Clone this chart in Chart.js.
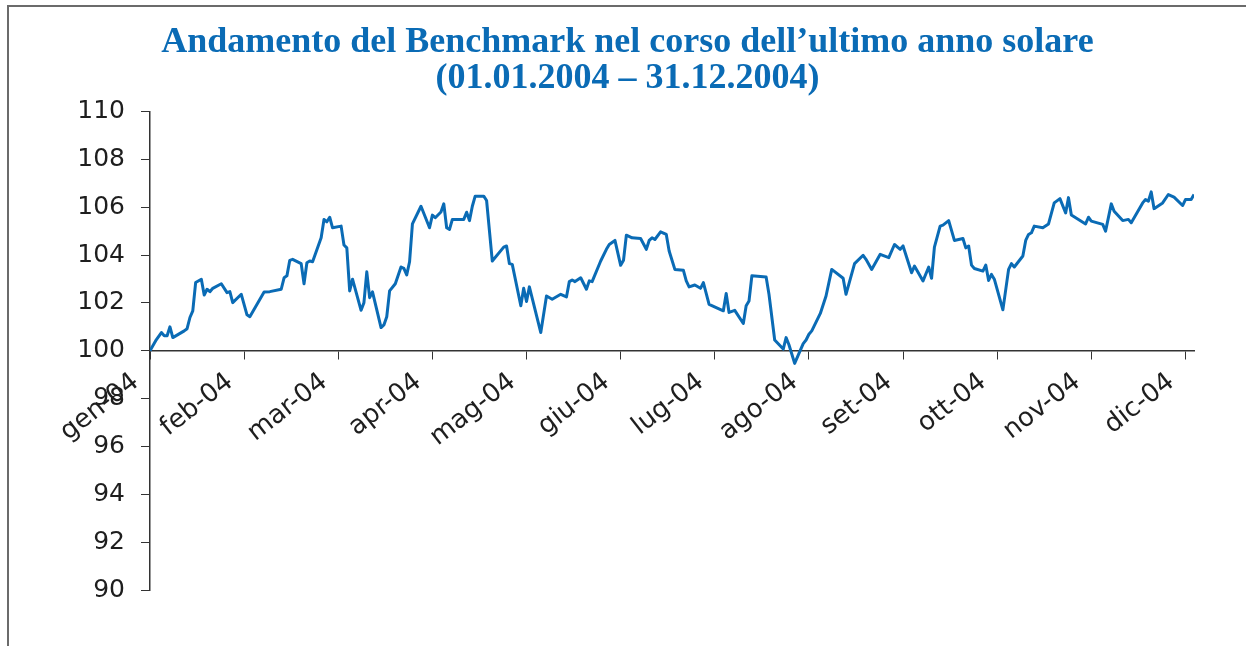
<!DOCTYPE html>
<html>
<head>
<meta charset="utf-8">
<script src="https://cdn.jsdelivr.net/npm/chart.js@4/dist/chart.umd.min.js"></script>
<style>
  html, body { margin: 0; padding: 0; background: #fff; }
  #wrap { position: relative; width: 1246px; height: 646px; overflow: hidden; }
  #frame { position: absolute; left: 7px; top: 5px; right: -4px; bottom: -4px;
           border-top: 2px solid #6b6b6b; border-left: 2px solid #6b6b6b; }
  #c { position: absolute; left: 0; top: 0; }
</style>
</head>
<body>
<div id="wrap">
  <div id="frame"></div>
  <canvas id="c" width="1246" height="646"></canvas>
</div>
<script>
// Benchmark 2004 — single line.

const titleLines = [
  'Andamento del Benchmark nel corso dell\u2019ultimo anno solare',
  '(01.01.2004 \u2013 31.12.2004)',
];
const monthLabels = ['gen-04','feb-04','mar-04','apr-04','mag-04','giu-04',
                     'lug-04','ago-04','set-04','ott-04','nov-04','dic-04'];
const yTicks = [90, 92, 94, 96, 98, 100, 102, 104, 106, 108, 110];

// day of the year (0 = 01.01) for each turning point of the line
const days = [
  0, 2, 4, 5, 6, 7, 8, 12, 13, 14, 15, 16, 18, 19, 20, 21, 22, 25, 27, 28, 29, 32, 34, 35,
  40, 42, 46, 47, 48, 49, 50, 53, 54, 55, 56, 57, 60, 61, 62, 63, 64, 67, 68, 69, 70, 71,
  74, 75, 76, 77, 78, 81, 82, 83, 84, 86, 88, 89, 90, 91, 92, 95, 98, 99, 100, 102, 103,
  104, 105, 106, 110, 111, 112, 113, 114, 117, 118, 120, 124, 125, 126, 127, 130, 131,
  132, 133, 137, 139, 141, 144, 146, 147, 148, 149, 151, 153, 154, 155, 158, 160, 161,
  163, 165, 166, 167, 169, 172, 174, 175, 176, 177, 179, 181, 182, 184, 187, 188, 189,
  191, 193, 194, 196, 201, 202, 203, 205, 208, 209, 210, 211, 216, 217, 219, 222, 223,
  224, 226, 229, 230, 231, 232, 235, 237, 239, 243, 244, 247, 250, 251, 253, 256, 259,
  261, 263, 264, 267, 268, 271, 273, 274, 275, 277, 278, 280, 282, 285, 286, 287, 288,
  289, 292, 293, 294, 295, 296, 299, 301, 302, 303, 306, 307, 308, 309, 310, 313, 315,
  317, 319, 321, 322, 323, 328, 329, 330, 334, 335, 337, 338, 341, 343, 344, 348, 349,
  350, 351, 352, 355, 357, 359, 362, 363, 365, 366,
];
const values = [
  100.00, 100.42, 100.76, 100.63, 100.63, 101.00, 100.55, 100.83, 100.92, 101.39, 101.67,
  102.85, 102.99, 102.33, 102.57, 102.47, 102.61, 102.80, 102.43, 102.47, 102.01, 102.36,
  101.50, 101.42, 102.46, 102.47, 102.57, 103.05, 103.13, 103.78, 103.82, 103.64, 102.80,
  103.68, 103.75, 103.72, 104.72, 105.49, 105.39, 105.58, 105.14, 105.21, 104.42, 104.30,
  102.50, 102.99, 101.69, 102.01, 103.30, 102.22, 102.46, 100.97, 101.08, 101.42, 102.50,
  102.80, 103.50, 103.44, 103.17, 103.72, 105.30, 106.04, 105.14, 105.67, 105.56, 105.80,
  106.14, 105.14, 105.07, 105.49, 105.49, 105.79, 105.44, 106.04, 106.46, 106.46, 106.28,
  103.75, 104.33, 104.38, 103.64, 103.61, 101.88, 102.61, 102.06, 102.67, 100.76, 102.29,
  102.15, 102.36, 102.25, 102.89, 102.96, 102.89, 103.05, 102.57, 102.92, 102.89, 103.75,
  104.24, 104.44, 104.61, 103.57, 103.78, 104.83, 104.72, 104.69, 104.24, 104.61, 104.72,
  104.65, 104.97, 104.86, 104.17, 103.40, 103.36, 102.92, 102.67, 102.75, 102.61, 102.85,
  101.94, 101.67, 102.39, 101.60, 101.69, 101.14, 101.88, 102.08, 103.13, 103.08, 102.36,
  100.45, 100.07, 100.55, 100.25, 99.47, 100.30, 100.45, 100.69, 100.83, 101.56, 102.29,
  103.40, 103.03, 102.36, 103.64, 103.99, 103.82, 103.40, 104.03, 103.89, 104.44, 104.24,
  104.38, 103.26, 103.54, 102.92, 103.50, 103.03, 104.33, 105.21, 105.25, 105.44, 104.61,
  104.69, 104.30, 104.38, 103.58, 103.44, 103.33, 103.58, 102.94, 103.19, 102.99, 101.71,
  103.40, 103.64, 103.50, 103.96, 104.61, 104.86, 104.93, 105.21, 105.14, 105.30, 106.18,
  106.36, 105.76, 106.40, 105.67, 105.30, 105.58, 105.42, 105.28, 105.00, 106.14, 105.83,
  105.44, 105.49, 105.35, 106.18, 106.32, 106.25, 106.64, 105.94, 106.18, 106.53, 106.42,
  106.07, 106.32, 106.32, 106.53,
];
const lastDay = 366;
const daysPerTick = 33;

const BLUE = '#0a6bb5';
const AXIS = '#333333';
const TXT = '#1e1e1e';

new Chart(document.getElementById('c'), {
  type: 'line',
  data: {
    datasets: [{
      data: days.map((d, i) => ({ x: d, y: values[i] })),
      borderColor: BLUE,
      borderWidth: 3,
      borderJoinStyle: 'round',
      pointRadius: 0,
      tension: 0,
      fill: false,
    }],
  },
  options: {
    responsive: false,
    animation: false,
    layout: { padding: { left: 61, right: 52, top: 0, bottom: 56 } },
    plugins: {
      legend: { display: false },
      tooltip: { enabled: false },
      title: {
        display: true,
        text: titleLines,
        color: BLUE,
        font: { family: 'Liberation Serif', size: 36, weight: 'bold', lineHeight: 1.0 },
        padding: { top: 24.5, bottom: 15 },
      },
    },
    scales: {
      x: {
        type: 'linear',
        min: 0,
        max: lastDay,
        position: { y: 100 },
        afterFit: s => { s.height = 0; },
        afterBuildTicks: s => { s.ticks = monthLabels.map((m, i) => ({ value: i * daysPerTick })); },
        ticks: {
          autoSkip: false,
          minRotation: 38,
          maxRotation: 38,
          padding: 8,
          labelOffset: -14,
          color: TXT,
          font: { family: 'DejaVu Sans', size: 26 },
          callback: v => monthLabels[Math.round(v / daysPerTick)],
        },
        grid: { drawOnChartArea: false, tickLength: 8, color: AXIS, lineWidth: 1 },
        border: { color: AXIS, width: 1.5 },
      },
      y: {
        min: 90,
        max: 110,
        afterFit: s => { s.width = 89; },
        afterBuildTicks: s => { s.ticks = yTicks.map(v => ({ value: v })); },
        ticks: { padding: 16, color: TXT, font: { family: 'DejaVu Sans', size: 25 } },
        grid: { drawOnChartArea: false, tickLength: 9, color: AXIS, lineWidth: 1 },
        border: { color: AXIS, width: 1.5 },
      },
    },
  },
});
</script>
</body>
</html>
